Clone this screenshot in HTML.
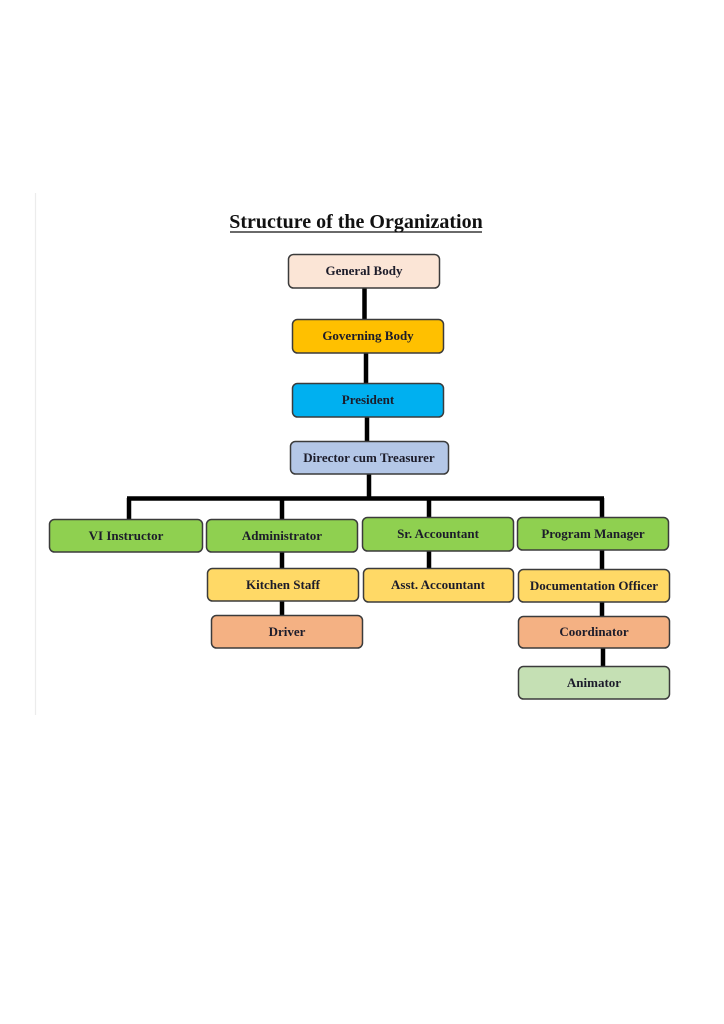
<!DOCTYPE html>
<html>
<head>
<meta charset="utf-8">
<style>
html,body{margin:0;padding:0;background:#fff;}
svg{display:block;}
text{font-family:"Liberation Serif","Times New Roman",serif;font-weight:bold;}
</style>
</head>
<body>
<svg width="724" height="1024" viewBox="0 0 724 1024" xmlns="http://www.w3.org/2000/svg">
<rect width="724" height="1024" fill="#fff"/>
<line x1="35.5" y1="193" x2="35.5" y2="715" stroke="#ececec" stroke-width="1.2"/>

<!-- title -->
<text x="356" y="228" font-size="20" text-anchor="middle" fill="#111">Structure of the Organization</text>
<line x1="230" y1="232" x2="482" y2="232" stroke="#111" stroke-width="1.3"/>

<!-- connectors -->
<g stroke="#000" stroke-width="4.5" fill="none">
<line x1="364.5" y1="288" x2="364.5" y2="319"/>
<line x1="366" y1="353" x2="366" y2="383"/>
<line x1="367" y1="417" x2="367" y2="441"/>
<line x1="369" y1="474" x2="369" y2="498"/>
<line x1="127" y1="498.5" x2="604" y2="498.5"/>
<line x1="129" y1="498" x2="129" y2="519"/>
<line x1="282" y1="498" x2="282" y2="519"/>
<line x1="429" y1="498" x2="429" y2="517"/>
<line x1="602" y1="498" x2="602" y2="517"/>
<line x1="282" y1="552" x2="282" y2="568"/>
<line x1="282" y1="601" x2="282" y2="615"/>
<line x1="429" y1="551" x2="429" y2="568"/>
<line x1="602" y1="550" x2="602" y2="569"/>
<line x1="602" y1="602" x2="602" y2="616"/>
<line x1="603" y1="648" x2="603" y2="666"/>
</g>

<!-- boxes -->
<g stroke="#3b3b3b" stroke-width="1.5">
<rect x="288.5" y="254.5" width="151" height="33.5" rx="5" fill="#fbe5d6"/>
<rect x="292.5" y="319.5" width="151" height="33.5" rx="5" fill="#ffc000"/>
<rect x="292.5" y="383.5" width="151" height="33.5" rx="5" fill="#00b0f0"/>
<rect x="290.5" y="441.5" width="158" height="32.5" rx="5" fill="#b4c7e7"/>

<rect x="49.5" y="519.5" width="153" height="32.5" rx="5" fill="#8fd050"/>
<rect x="206.5" y="519.5" width="151" height="32.5" rx="5" fill="#8fd050"/>
<rect x="362.5" y="517.5" width="151" height="33.5" rx="5" fill="#8fd050"/>
<rect x="517.5" y="517.5" width="151" height="32.5" rx="5" fill="#8fd050"/>

<rect x="207.5" y="568.5" width="151" height="32.5" rx="5" fill="#ffd966"/>
<rect x="363.5" y="568.5" width="150" height="33.5" rx="5" fill="#ffd966"/>
<rect x="518.5" y="569.5" width="151" height="32.5" rx="5" fill="#ffd966"/>

<rect x="211.5" y="615.5" width="151" height="32.5" rx="5" fill="#f4b183"/>
<rect x="518.5" y="616.5" width="151" height="31.5" rx="5" fill="#f4b183"/>

<rect x="518.5" y="666.5" width="151" height="32.5" rx="5" fill="#c5e0b4"/>
</g>

<!-- labels -->
<g font-size="13" text-anchor="middle" fill="#1c1c2a">
<text x="364" y="275">General Body</text>
<text x="368" y="340">Governing Body</text>
<text x="368" y="404">President</text>
<text x="369" y="462">Director cum Treasurer</text>

<text x="126" y="540">VI Instructor</text>
<text x="282" y="540">Administrator</text>
<text x="438" y="538">Sr. Accountant</text>
<text x="593" y="538">Program Manager</text>

<text x="283" y="589">Kitchen Staff</text>
<text x="438" y="589">Asst. Accountant</text>
<text x="594" y="590">Documentation Officer</text>

<text x="287" y="636">Driver</text>
<text x="594" y="636">Coordinator</text>

<text x="594" y="687">Animator</text>
</g>
</svg>
</body>
</html>
